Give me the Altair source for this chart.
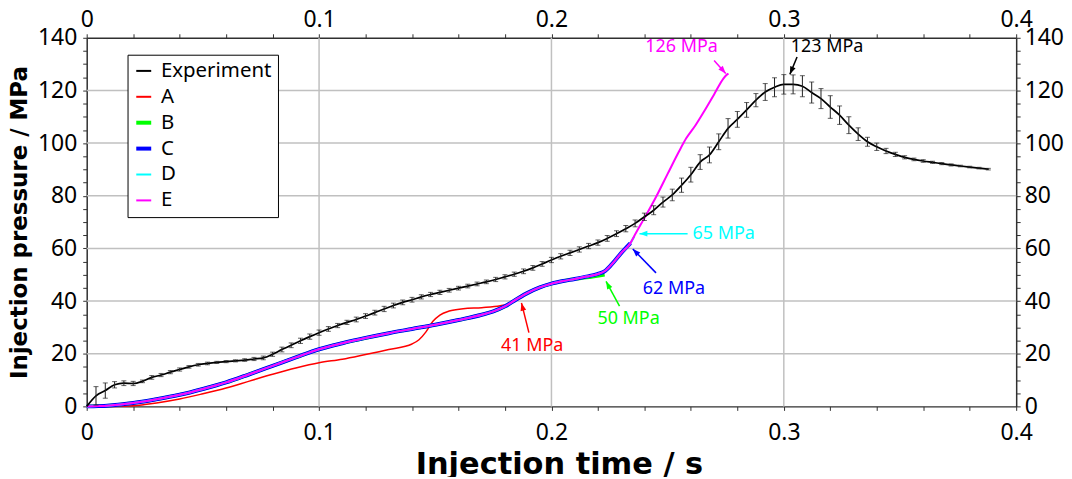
import altair as alt
import pandas as pd

FONT = "Noto Sans"
TITLE_FONT = "DejaVu Sans"

# ---------------- data ----------------
series_names = ["Experiment", "A", "B", "C", "D", "E"]
series_colors = ["#000000", "#ff0000", "#00ff00", "#0000ff", "#00ffff", "#ff00ff"]
series_widths = [1.7, 1.5, 3.5, 4.0, 2.0, 2.0]

exp_t = [0.000, 0.004, 0.008, 0.012, 0.016, 0.020, 0.024, 0.028, 0.032, 0.036,
         0.040, 0.044, 0.048, 0.052, 0.056, 0.060, 0.064, 0.068, 0.072, 0.076,
         0.080, 0.084, 0.088, 0.092, 0.096, 0.100, 0.104, 0.108, 0.112, 0.116,
         0.120, 0.124, 0.128, 0.132, 0.136, 0.140, 0.144, 0.148, 0.152, 0.156,
         0.160, 0.164, 0.168, 0.172, 0.176, 0.180, 0.184, 0.188, 0.192, 0.196,
         0.200, 0.204, 0.208, 0.212, 0.216, 0.220, 0.224, 0.228, 0.232, 0.236,
         0.240, 0.244, 0.248, 0.252, 0.256, 0.260, 0.264, 0.268, 0.272, 0.276,
         0.280, 0.284, 0.288, 0.292, 0.296, 0.300, 0.304, 0.308, 0.312, 0.316,
         0.320, 0.324, 0.328, 0.332, 0.336, 0.340, 0.344, 0.348, 0.352, 0.356,
         0.360, 0.364, 0.368, 0.372, 0.376, 0.380, 0.384, 0.388]
exp_p = [0.0, 4.0, 6.0, 8.2, 8.8, 8.7, 9.5, 11.0, 11.9, 13.0,
         14.0, 15.0, 15.8, 16.3, 16.7, 17.0, 17.3, 17.6, 18.0, 18.4,
         19.8, 21.6, 23.2, 24.9, 26.5, 28.0, 29.4, 30.7, 31.9, 33.0,
         34.3, 35.6, 37.0, 38.3, 39.5, 40.5, 41.6, 42.5, 43.3, 44.1,
         44.9, 45.7, 46.5, 47.3, 48.2, 49.2, 50.2, 51.3, 52.6, 54.1,
         55.6, 57.0, 58.3, 59.6, 60.9, 62.2, 63.8, 65.6, 67.5, 69.5,
         72.0, 74.5, 77.6, 80.3, 84.0, 88.0, 92.8, 95.5, 100.5, 105.6,
         109.0, 112.6, 116.3, 119.4, 121.2, 122.3, 122.3, 121.6, 119.2, 116.9,
         113.7, 110.6, 106.8, 103.4, 100.5, 98.6, 97.0, 95.7, 94.6, 93.8,
         93.2, 92.7, 92.2, 91.7, 91.3, 90.9, 90.5, 90.1]
exp_err = [0.0, 3.5, 2.9, 1.2, 0.9, 0.8, 0.5, 0.7, 0.6, 0.6,
           0.6, 0.5, 0.5, 0.5, 0.4, 0.4, 0.4, 0.5, 0.6, 0.7,
           0.8, 0.9, 0.9, 1.0, 1.0, 1.0, 0.9, 0.8, 0.8, 0.9,
           0.9, 0.9, 1.0, 0.9, 0.9, 0.9, 0.8, 0.8, 0.8, 0.7,
           0.7, 0.7, 0.7, 0.7, 0.8, 0.8, 0.8, 0.9, 0.9, 0.9,
           1.0, 1.0, 1.0, 1.0, 1.0, 1.0, 1.1, 1.1, 1.2, 1.3,
           1.4, 1.7, 1.9, 2.2, 2.7, 2.8, 2.8, 3.0, 3.0, 3.7,
           3.0, 2.8, 2.5, 3.2, 3.6, 3.7, 3.6, 4.0, 4.0, 3.8,
           4.3, 3.5, 3.2, 2.4, 1.7, 1.4, 1.0, 0.8, 0.6, 0.5,
           0.5, 0.4, 0.4, 0.4, 0.3, 0.3, 0.3, 0.3]

a_t = [0.0, 0.01, 0.02, 0.025, 0.03, 0.04, 0.05, 0.06, 0.07, 0.08, 0.09, 0.1,
       0.11, 0.12, 0.13, 0.14, 0.143, 0.146, 0.149, 0.152, 0.156, 0.162, 0.17,
       0.178, 0.183, 0.1857]
a_p = [0.0, 0.0, 0.2, 0.7, 1.3, 2.8, 4.8, 7.0, 9.6, 12.2, 14.6, 16.6,
       17.9, 19.7, 21.6, 23.7, 25.3, 28.3, 32.3, 34.7, 36.2, 37.1, 37.5,
       38.2, 39.3, 40.9]

base_t = [0.0, 0.005, 0.01, 0.02, 0.03, 0.04, 0.05, 0.06, 0.07, 0.08, 0.09, 0.1,
          0.11, 0.12, 0.13, 0.14, 0.15, 0.16, 0.17, 0.175, 0.18, 0.185, 0.19,
          0.195, 0.2, 0.205, 0.21]
base_p = [0.0, 0.1, 0.35, 1.3, 2.7, 4.4, 6.6, 9.1, 12.2, 15.4, 18.6, 21.7,
          24.0, 26.0, 27.8, 29.4, 31.0, 32.8, 34.8, 36.1, 38.0, 40.7, 43.2,
          45.2, 46.6, 47.6, 48.4]

b_tail_t = [0.215, 0.2229]
b_tail_p = [48.9, 50.0]
c_tail_t = [0.215, 0.22, 0.223, 0.226, 0.23, 0.234]
c_tail_p = [49.3, 50.3, 51.4, 54.0, 58.2, 62.0]
d_tail_t = [0.215, 0.22, 0.223, 0.226, 0.23, 0.234, 0.2357]
d_tail_p = [49.3, 50.3, 51.4, 54.0, 58.2, 62.0, 64.6]
e_tail_t = [0.215, 0.22, 0.223, 0.226, 0.23, 0.234, 0.2357, 0.24, 0.245, 0.25,
            0.255, 0.258, 0.262, 0.266, 0.27, 0.274, 0.2755, 0.2762]
e_tail_p = [49.3, 50.3, 51.4, 54.0, 58.2, 62.0, 64.8, 71.5, 79.5, 88.3,
            97.0, 101.8, 106.8, 112.5, 118.5, 124.5, 126.0, 126.4]

ann_text = ["126 MPa", "123 MPa", "65 MPa", "62 MPa", "50 MPa", "41 MPa"]
ann_color = ["#ff00ff", "#000000", "#00ffff", "#0000ff", "#00ff00", "#ff0000"]
ann_tx = [0.2560, 0.3186, 0.2741, 0.2527, 0.2332, 0.1917]
ann_py = [136.3, 136.3, 65.6, 44.6, 33.0, 22.9]
arr_t0 = [0.2700, 0.3057, 0.2586, 0.2450, 0.2293, 0.1903]
arr_p0 = [131.4, 132.7, 65.6, 50.7, 38.1, 28.0]
arr_t1 = [0.2750, 0.3026, 0.2379, 0.2350, 0.2235, 0.1871]
arr_p1 = [126.4, 126.1, 65.6, 59.8, 47.5, 39.3]
arr_angle = [139, 203, 270, 316, 332, 346]

x_ticks = [0.0, 0.02, 0.04, 0.06, 0.08, 0.1, 0.12, 0.14, 0.16, 0.18, 0.2,
           0.22, 0.24, 0.26, 0.28, 0.3, 0.32, 0.34, 0.36, 0.38, 0.4]
y_ticks = [0, 5, 10, 15, 20, 25, 30, 35, 40, 45, 50, 55, 60, 65, 70, 75, 80,
           85, 90, 95, 100, 105, 110, 115, 120, 125, 130, 135, 140]
grid_x = [0.1, 0.2, 0.3]
grid_y = [20, 40, 60, 80, 100, 120]

# ---------------- tables ----------------
width_of = dict(zip(series_names, series_widths))
rows = []
def add(name, ts, ps):
    for t, p in zip(ts, ps):
        rows.append({"series": name, "t": t, "p": p, "w": width_of[name]})

add("A", a_t, a_p)
add("B", base_t + b_tail_t, base_p + b_tail_p)
add("C", base_t + c_tail_t, base_p + c_tail_p)
add("D", base_t + d_tail_t, base_p + d_tail_p)
add("E", base_t + e_tail_t, base_p + e_tail_p)
add("Experiment", exp_t, exp_p)
lines_df = pd.DataFrame(rows)

err_df = pd.DataFrame({"t": exp_t, "p": exp_p, "e": exp_err})
err_df = err_df[err_df["e"] > 0].copy()
err_df["lo"] = err_df["p"] - err_df["e"]
err_df["hi"] = err_df["p"] + err_df["e"]

ann_df = pd.DataFrame({"label": ann_text, "color": ann_color, "t": ann_tx, "p": ann_py})
arr_df = pd.DataFrame({"color": ann_color, "t0": arr_t0, "p0": arr_p0,
                       "t1": arr_t1, "p1": arr_p1, "ang": arr_angle})

# ---------------- scales / axes ----------------
xs = alt.Scale(domain=[0, 0.4], nice=False, zero=False)
ys = alt.Scale(domain=[0, 140], nice=False, zero=False)

x_label_expr = ("abs(datum.value*10 - round(datum.value*10)) < 0.001 ? "
                "(datum.value == 0 ? '0' : format(datum.value, '.1f')) : ''")
y_label_expr = "datum.value % 20 == 0 ? format(datum.value, 'd') : ''"

common_axis = dict(labelFont=FONT, labelFontSize=23, labelColor="black",
                   tickSize=4, tickColor="#303030", tickWidth=1,
                   domainColor="#303030", domainWidth=1.5, grid=False,
                   labelOverlap=False, labelFlush=False)

x_bottom = alt.Axis(orient="bottom", values=x_ticks, labelExpr=x_label_expr,
                    title="Injection time / s", titleFont=TITLE_FONT, titleFontSize=30.5,
                    titleFontWeight="bold", titleColor="black", titlePadding=5,
                    titleX=474, labelPadding=11, **common_axis)
x_top = alt.Axis(orient="top", values=x_ticks, labelExpr=x_label_expr, title=None,
                 labelPadding=2, **common_axis)
y_left = alt.Axis(orient="left", values=y_ticks, labelExpr=y_label_expr,
                  title="Injection pressure / MPa", titleFont=TITLE_FONT, titleFontSize=23,
                  titleFontWeight="bold", titleColor="black", titlePadding=6,
                  labelPadding=6, **common_axis)
y_right = alt.Axis(orient="right", values=y_ticks, labelExpr=y_label_expr, title=None,
                   labelPadding=4, **common_axis)

X = lambda ax=None: alt.X("t:Q", scale=xs, axis=ax)
Y = lambda ax=None: alt.Y("p:Q", scale=ys, axis=ax)

# ---------------- layers ----------------
gx = alt.Chart(pd.DataFrame({"t": grid_x})).mark_rule(color="#c0c0c0", strokeWidth=1.5).encode(
    x=alt.X("t:Q", scale=xs, axis=None))
gy = alt.Chart(pd.DataFrame({"p": grid_y})).mark_rule(color="#c0c0c0", strokeWidth=1.5).encode(
    y=alt.Y("p:Q", scale=ys, axis=None))

legend = alt.Legend(
    title=None, orient="none", legendX=41, legendY=17,
    fillColor="white", strokeColor="black", padding=6,
    labelFont=FONT, labelFontSize=20.5, labelColor="black",
    rowPadding=5, symbolType="stroke", symbolSize=225, labelOffset=7,
    symbolStrokeWidth=alt.ExprRef(expr="(datum.value == 'B' || datum.value == 'C') ? 4 : 2"),
)

lines = alt.Chart(lines_df).mark_line(interpolate="monotone").encode(
    x=X(x_bottom), y=Y(y_left),
    color=alt.Color("series:N", scale=alt.Scale(domain=series_names, range=series_colors),
                    legend=legend),
    strokeWidth=alt.StrokeWidth("w:Q", scale=None, legend=None),
    detail="series:N",
)

err_rule = alt.Chart(err_df).mark_rule(color="#222222", strokeWidth=1).encode(
    x=X(), y=alt.Y("lo:Q", scale=ys, axis=None), y2="hi:Q")
err_lo = alt.Chart(err_df).mark_point(shape="stroke", size=25, color="#222222", strokeWidth=1).encode(
    x=X(), y=alt.Y("lo:Q", scale=ys, axis=None))
err_hi = alt.Chart(err_df).mark_point(shape="stroke", size=25, color="#222222", strokeWidth=1).encode(
    x=X(), y=alt.Y("hi:Q", scale=ys, axis=None))

shafts = alt.Chart(arr_df).mark_rule(strokeWidth=1.5).encode(
    x=alt.X("t0:Q", scale=xs, axis=None), y=alt.Y("p0:Q", scale=ys, axis=None),
    x2="t1:Q", y2="p1:Q", color=alt.Color("color:N", scale=None))
heads = alt.Chart(arr_df).mark_point(shape="M0,0L-0.55,1.5L0.55,1.5Z", filled=True, size=110,
                                     opacity=1).encode(
    x=alt.X("t1:Q", scale=xs, axis=None), y=alt.Y("p1:Q", scale=ys, axis=None),
    color=alt.Color("color:N", scale=None), angle=alt.Angle("ang:Q", scale=None))
texts = alt.Chart(ann_df).mark_text(font=FONT, fontSize=18, align="center", baseline="middle").encode(
    x=X(), y=Y(), text="label:N", color=alt.Color("color:N", scale=None))

top_right = alt.Chart(pd.DataFrame({"t": [0.0], "p": [0.0]})).mark_point(opacity=0).encode(
    x=X(x_top), y=Y(y_right))

chart = alt.layer(gx, gy, lines, err_rule, err_lo, err_hi, shafts, heads, texts, top_right).resolve_axis(
    x="independent", y="independent"
).properties(
    width=933, height=370,
    padding={"left": 79, "top": 29, "right": 48, "bottom": 70},
    autosize=alt.AutoSizeParams(type="none"),
    background="white",
).configure_view(stroke=None)

chart.save("out.html", embed_options={"renderer": "svg", "actions": False})
